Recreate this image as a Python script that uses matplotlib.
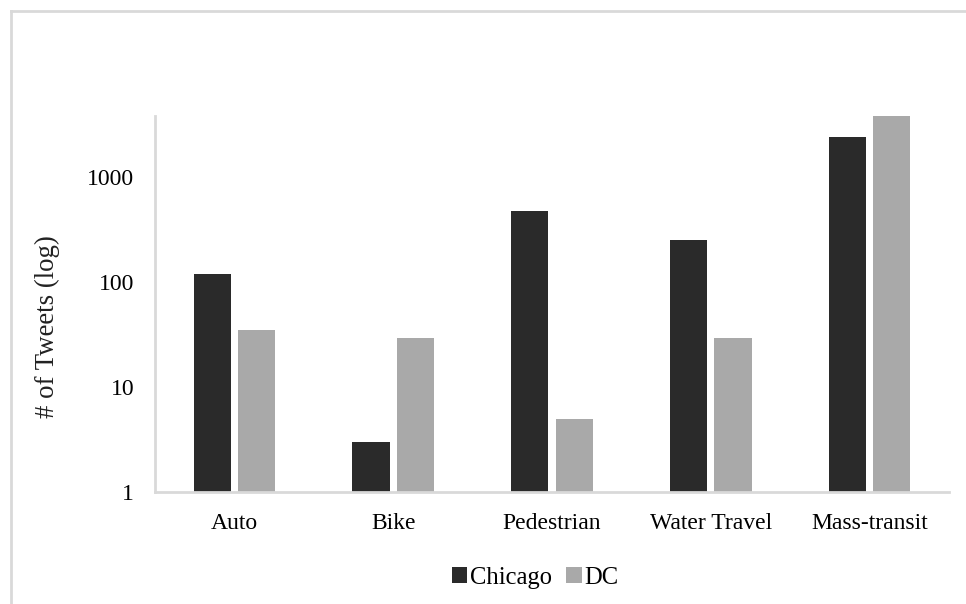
import matplotlib
matplotlib.use("Agg")
import matplotlib.pyplot as plt
import numpy as np
from matplotlib.lines import Line2D
from matplotlib.patches import Patch

# Tweet counts per travel mode, plotted on a log axis
categories = ["Auto", "Bike", "Pedestrian", "Water Travel", "Mass-transit"]
chicago = [120, 3, 470, 250, 2400]
dc = [35, 29, 5, 29, 3800]
series_names = ["Chicago", "DC"]
yticks = [1, 10, 100, 1000]
ytick_labels = ["1", "10", "100", "1000"]

plt.rcParams["font.family"] = ["Liberation Serif", "DejaVu Serif"]

dark = "#2a2a2a"
light = "#a9a9a9"
axis_grey = "#d9d9d9"

fig = plt.figure(figsize=(9.66, 6.04), dpi=100)
ax = fig.add_axes([0.1605, 0.1854, 0.8219, 0.6225])

x = np.arange(len(categories))
w = 0.235
off = 0.14
ax.bar(x - off, chicago, width=w, color=dark, label=series_names[0], zorder=2)
ax.bar(x + off, dc, width=w, color=light, label=series_names[1], zorder=2)

ax.set_yscale("log")
ax.set_ylim(1, 3800)
ax.set_xlim(-0.5, len(categories) - 0.5)
ax.set_yticks(yticks)
ax.set_yticklabels(ytick_labels)
ax.yaxis.set_minor_locator(matplotlib.ticker.NullLocator())
ax.set_xticks(x)
ax.set_xticklabels(categories)
ax.tick_params(axis="both", length=0, labelsize=17, colors="black")
ax.tick_params(axis="y", pad=15)
ax.tick_params(axis="x", pad=15)

for s in ["top", "right"]:
    ax.spines[s].set_visible(False)
for s in ["left", "bottom"]:
    ax.spines[s].set_color(axis_grey)
    ax.spines[s].set_linewidth(2)

ax.set_ylabel("# of Tweets (log)", fontsize=19.3, color="#222222")
ax.yaxis.set_label_coords(60 / 966, (604 - 327) / 604, transform=fig.transFigure)

handles = [Patch(facecolor=dark, edgecolor="none"), Patch(facecolor=light, edgecolor="none")]
fig.legend(handles, series_names, loc="center", bbox_to_anchor=(0.554, 0.043),
           ncol=2, frameon=False, fontsize=17.7, handlelength=0.62, handleheight=0.62,
           handletextpad=0.12, columnspacing=0.6)

# light frame lines along the top and left edge
fig.add_artist(Line2D([11 / 966, 11 / 966], [0, 1 - 11 / 604], transform=fig.transFigure,
                      color=axis_grey, lw=2))
fig.add_artist(Line2D([11 / 966, 1], [1 - 11 / 604, 1 - 11 / 604], transform=fig.transFigure,
                      color=axis_grey, lw=2))

fig.savefig("out.png", dpi=100)
